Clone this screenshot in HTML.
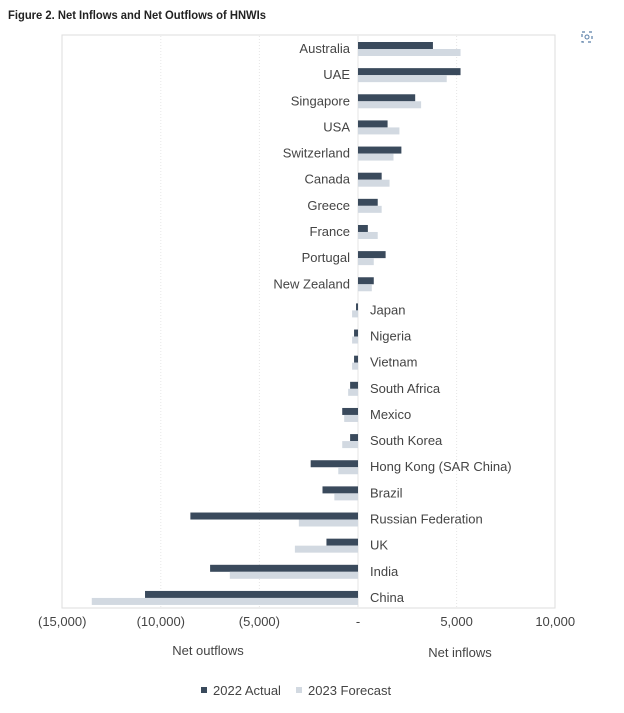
<!DOCTYPE html>
<html><head><meta charset="utf-8">
<style>
body{margin:0;background:#fff;width:624px;height:708px;overflow:hidden;font-family:"Liberation Sans",sans-serif;}
svg text{font-family:"Liberation Sans",sans-serif;}
</style></head>
<body>
<svg id="chart" width="624" height="708">
<text x="8" y="19" font-size="12" font-weight="bold" fill="#222" textLength="258" lengthAdjust="spacingAndGlyphs">Figure 2. Net Inflows and Net Outflows of HNWIs</text>
<g transform="translate(587,37)">
<rect x="-5" y="-5" width="10" height="10" fill="none" stroke="#5a7fa8" stroke-width="1.2" stroke-dasharray="3 4"/>
<circle cx="0" cy="0" r="2" fill="none" stroke="#5a7fa8" stroke-width="1"/>
</g>
<rect x="62" y="35" width="493" height="573" fill="none" stroke="#ddd"/>
<g id="grid"></g>
<g id="bars"></g>
<g id="labels"></g>
<g id="ticks"></g>
<text x="208" y="655" font-size="13" fill="#444" text-anchor="middle">Net outflows</text>
<text x="460" y="657" font-size="13" fill="#444" text-anchor="middle">Net inflows</text>
<g>
<rect x="201" y="687" width="6" height="6" fill="#3a4a5c"/>
<text x="213" y="695" font-size="13" fill="#444">2022 Actual</text>
<rect x="296" y="687" width="6" height="6" fill="#d2d9e1"/>
<text x="308" y="695" font-size="13" fill="#444">2023 Forecast</text>
</g>
</svg>
<script>
const categories=["Australia","UAE","Singapore","USA","Switzerland","Canada","Greece","France","Portugal","New Zealand","Japan","Nigeria","Vietnam","South Africa","Mexico","South Korea","Hong Kong (SAR China)","Brazil","Russian Federation","UK","India","China"];
const actual2022=[3800,5200,2900,1500,2200,1200,1000,500,1400,800,-100,-200,-200,-400,-800,-400,-2400,-1800,-8500,-1600,-7500,-10800];
const forecast2023=[5200,4500,3200,2100,1800,1600,1200,1000,800,700,-300,-300,-300,-500,-700,-800,-1000,-1200,-3000,-3200,-6500,-13500];
const tickValues=[-15000,-10000,-5000,0,5000,10000];
const tickLabels=["(15,000)","(10,000)","(5,000)","-","5,000","10,000"];
const NS="http://www.w3.org/2000/svg";
const x=v=>358+v*0.01972;
const y=i=>48+i*26.14;
function mk(tag,attrs,parent){const e=document.createElementNS(NS,tag);for(const k in attrs)e.setAttribute(k,attrs[k]);document.getElementById(parent).appendChild(e);return e;}
tickValues.forEach((v,i)=>{
  if(v!==0&&v!==-15000&&v!==10000){const g=mk('line',{x1:x(v),x2:x(v),y1:36,y2:607,stroke:'#e6e6e6','stroke-dasharray':'1 2'},'grid');
  
  }
  const t=mk('text',{x:x(v),y:626,'font-size':13,fill:'#444','text-anchor':'middle'},'ticks');
  t.textContent=tickLabels[i];
  
  
});
const z=mk('line',{x1:x(0),x2:x(0),y1:36,y2:607,stroke:'#e6e6e6'},'grid');


categories.forEach((c,i)=>{
  const cy=y(i);
  const a=actual2022[i],f=forecast2023[i];
  const r1=mk('rect',{x:Math.min(x(0),x(a)),y:cy-6,width:Math.abs(x(a)-x(0)),height:7,fill:'#3a4a5c'},'bars');
  
  
  const r2=mk('rect',{x:Math.min(x(0),x(f)),y:cy+1,width:Math.abs(x(f)-x(0)),height:7,fill:'#d2d9e1'},'bars');
  
  
  const pos=a>=0||f>=0;
  const t=mk('text',{x:pos?x(0)-8:x(0)+12,y:cy+5,'font-size':13,fill:'#444','text-anchor':pos?'end':'start'},'labels');
  t.textContent=c;
  
  
});
</script>
</body></html>
